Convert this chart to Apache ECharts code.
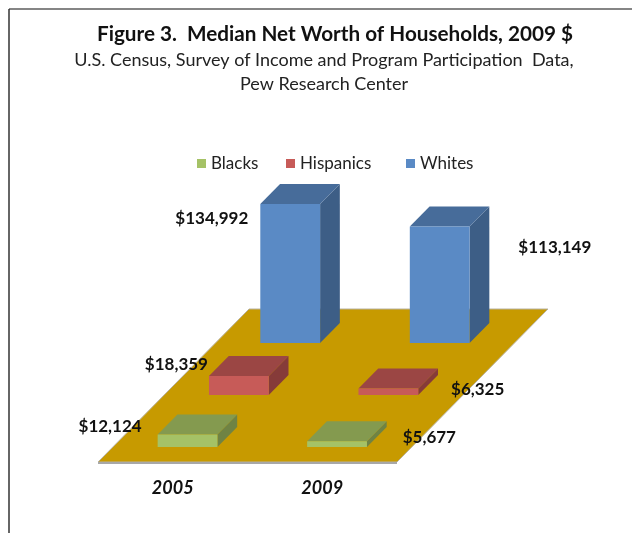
<!DOCTYPE html>
<html><head><meta charset="utf-8">
<script src="https://cdn.jsdelivr.net/npm/echarts@6/dist/echarts.min.js"></script>
<style>html,body{margin:0;padding:0;background:#fff}#c{width:632px;height:533px}</style>
</head><body><div id="c"></div>
<script>
// ---- data ----
const categories = ['2005', '2009'];
const seriesNames = ['Blacks', 'Hispanics', 'Whites'];
const blacks = [12124, 5677];
const hispanics = [18359, 6325];
const whites = [134992, 113149];
const titleText = 'Figure 3.  Median Net Worth of Households, 2009 $';
const subtitleLines = ['U.S. Census, Survey of Income and Program Participation  Data,', 'Pew Research Center'];

// ---- styling / layout ----
const FONT = 'Lato, "Open Sans", sans-serif';
const K = 0.987;            // x shift per px of depth (oblique projection)
const FLOOR_DEPTH = 153;
const ROW_FRONT = [15, 67, 119];  // depth offset of each row's bar front
const BAR_DEPTH = 20;
const BAR_FRAC = 0.4;
const faces = {
  Blacks:    {front: '#A5C266', top: '#849A4F', side: '#6F8344'},
  Hispanics: {front: '#C75B58', top: '#9B4644', side: '#863B39'},
  Whites:    {front: '#5A8AC5', top: '#476C9A', side: '#3D5E86'}
};
// label nudges relative to bar anchor: [2005, 2009]
const labelNudge = {
  Blacks:    [[-16, -8], [16, -4]],
  Hispanics: [[-1, -12], [13, 1]],
  Whites:    [[-12, 15], [29, 21]]
};
const legendLeft = [192, 281, 401];
const valuesByName = {Blacks: blacks, Hispanics: hispanics, Whites: whites};
const fmt = v => '$' + v.toLocaleString('en-US');

function barSeries(name, row) {
  const c = faces[name];
  return {
    name, type: 'custom', clip: false, z: 10 - row,
    itemStyle: {color: c.front},
    encode: {x: 0, y: 1},
    data: valuesByName[name].map((v, i) => [i, v]),
    renderItem(params, api) {
      const i = api.value(0);
      const base = api.coord([i, 0]);
      const top = api.coord([i, api.value(1)]);
      const band = api.size([1, 0])[0];
      const w = band * BAR_FRAC;
      const off = ROW_FRONT[row];
      const x0 = base[0] - w / 2 + off * K;
      const y0 = base[1] - off;
      const h = base[1] - top[1];
      const dx = BAR_DEPTH * K, dy = BAR_DEPTH;
      const yt = y0 - h;
      const nud = labelNudge[name][i];
      const isLeft = i === 0;
      const lx = isLeft ? x0 + nud[0] : x0 + w + dx + nud[0];
      const ly = yt + nud[1];
      return {
        type: 'group',
        children: [
          {type: 'polygon', shape: {points: [[x0 + w, yt], [x0 + w, y0], [x0 + w + dx, y0 - dy], [x0 + w + dx, yt - dy]]}, style: {fill: c.side}},
          {type: 'polygon', shape: {points: [[x0, yt], [x0 + w, yt], [x0 + w + dx, yt - dy], [x0 + dx, yt - dy]]}, style: {fill: c.top}},
          {type: 'rect', shape: {x: x0, y: yt, width: w, height: h}, style: {fill: c.front}},
          {type: 'text', x: lx, y: ly, style: {text: fmt(api.value(1)), fill: '#111', font: 'bold 17px ' + FONT, align: isLeft ? 'right' : 'left', verticalAlign: 'middle'}}
        ]
      };
    }
  };
}

const floorSeries = {
  name: 'floor', type: 'custom', clip: false, z: 1, silent: true,
  encode: {x: 0, y: 1},
  data: [[0, 0]],
  renderItem(params, api) {
    const band = api.size([1, 0])[0];
    const b = api.coord([0, 0]);
    const xl = b[0] - band / 2, xr = xl + band * categories.length, y = b[1];
    const dx = FLOOR_DEPTH * K, dy = FLOOR_DEPTH;
    return {
      type: 'group',
      children: [
        {type: 'polygon', shape: {points: [[xl, y], [xr, y], [xr + dx, y - dy], [xl + dx, y - dy]]}, style: {fill: '#C79A00', stroke: '#b8b2a0', lineWidth: 1}},
        {type: 'line', shape: {x1: xl, y1: y + 1, x2: xr, y2: y + 1}, style: {stroke: '#a8a8a8', lineWidth: 2}}
      ]
    };
  }
};

const legends = seriesNames.map((n, i) => ({
  data: [n], left: legendLeft[i], top: 150, icon: 'rect', itemWidth: 9, itemHeight: 9,
  textStyle: {fontSize: 17, color: '#222', fontFamily: FONT}
}));

const chart = echarts.init(document.getElementById('c'));
chart.setOption({
  animation: false,
  textStyle: {fontFamily: FONT},
  grid: {left: 98, width: 299, bottom: 71, top: 307.5},
  xAxis: {
    type: 'category', data: categories,
    axisLine: {show: false}, axisTick: {show: false},
    axisLabel: {margin: 17, fontSize: 18, fontWeight: 'bold', fontStyle: 'italic', color: '#111', fontFamily: FONT}
  },
  yAxis: {type: 'value', min: 0, max: 150000, show: false, splitLine: {show: false}},
  legend: legends,
  graphic: [
    {type: 'line', shape: {x1: 9, y1: 9, x2: 632, y2: 9}, style: {stroke: '#858585', lineWidth: 2}},
    {type: 'line', shape: {x1: 9, y1: 9, x2: 9, y2: 533}, style: {stroke: '#333', lineWidth: 1.5}},
    {type: 'text', x: 335, y: 34, style: {text: titleText, font: 'bold 20.7px ' + FONT, fill: '#111', align: 'center', verticalAlign: 'middle'}},
    {type: 'text', x: 324, y: 60, style: {text: subtitleLines[0], font: '18px ' + FONT, fill: '#222', align: 'center', verticalAlign: 'middle'}},
    {type: 'text', x: 324, y: 84, style: {text: subtitleLines[1], font: '18px ' + FONT, fill: '#222', align: 'center', verticalAlign: 'middle'}}
  ],
  series: [floorSeries, barSeries('Whites', 2), barSeries('Hispanics', 1), barSeries('Blacks', 0)]
});
</script></body></html>
